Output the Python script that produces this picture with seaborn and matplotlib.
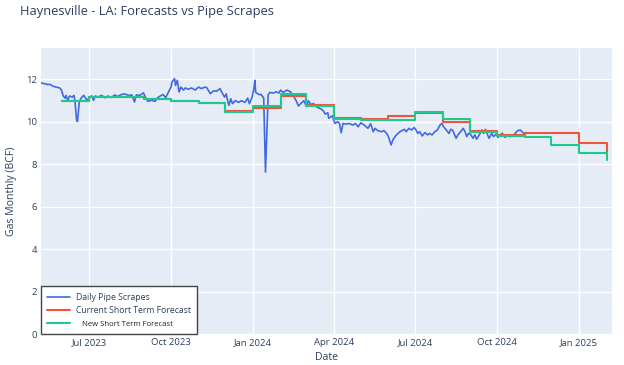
import matplotlib
matplotlib.use("Agg")
import matplotlib.pyplot as plt
import matplotlib.dates as mdates
import seaborn as sns
import pandas as pd

# ---------------- data ----------------
pipe_dates = [
    "2023-05-08", "2023-05-12", "2023-05-15", "2023-05-18", "2023-05-21", "2023-05-25", "2023-05-29", "2023-05-31",
    "2023-06-02", "2023-06-04", "2023-06-05", "2023-06-07", "2023-06-09", "2023-06-12", "2023-06-14", "2023-06-15",
    "2023-06-17", "2023-06-18", "2023-06-20", "2023-06-23", "2023-06-25", "2023-06-27", "2023-06-29", "2023-07-01",
    "2023-07-04", "2023-07-06", "2023-07-08", "2023-07-11", "2023-07-15", "2023-07-19", "2023-07-22", "2023-07-26",
    "2023-07-30", "2023-08-02", "2023-08-06", "2023-08-10", "2023-08-14", "2023-08-18", "2023-08-21", "2023-08-23",
    "2023-08-27", "2023-08-31", "2023-09-02", "2023-09-05", "2023-09-09", "2023-09-13", "2023-09-16", "2023-09-20",
    "2023-09-22", "2023-09-25", "2023-09-28", "2023-10-01", "2023-10-02", "2023-10-05", "2023-10-06", "2023-10-08",
    "2023-10-10", "2023-10-12", "2023-10-15", "2023-10-17", "2023-10-20", "2023-10-24", "2023-10-28", "2023-11-01",
    "2023-11-04", "2023-11-08", "2023-11-10", "2023-11-14", "2023-11-18", "2023-11-21", "2023-11-25", "2023-11-27",
    "2023-11-30", "2023-12-02", "2023-12-03", "2023-12-05", "2023-12-07", "2023-12-09", "2023-12-12", "2023-12-16",
    "2023-12-19", "2023-12-23", "2023-12-26", "2023-12-28", "2023-12-31", "2024-01-02", "2024-01-03", "2024-01-04",
    "2024-01-08", "2024-01-10", "2024-01-13", "2024-01-15", "2024-01-18", "2024-01-20", "2024-01-24", "2024-01-27",
    "2024-01-30", "2024-02-01", "2024-02-04", "2024-02-08", "2024-02-12", "2024-02-16", "2024-02-19", "2024-02-21",
    "2024-02-24", "2024-02-27", "2024-03-01", "2024-03-03", "2024-03-06", "2024-03-09", "2024-03-13", "2024-03-17",
    "2024-03-20", "2024-03-22", "2024-03-25", "2024-03-26", "2024-03-30", "2024-04-02", "2024-04-05", "2024-04-07",
    "2024-04-09", "2024-04-11", "2024-04-14", "2024-04-18", "2024-04-22", "2024-04-25", "2024-04-28", "2024-05-01",
    "2024-05-05", "2024-05-09", "2024-05-12", "2024-05-15", "2024-05-17", "2024-05-20", "2024-05-24", "2024-05-27",
    "2024-05-30", "2024-06-01", "2024-06-04", "2024-06-06", "2024-06-09", "2024-06-11", "2024-06-14", "2024-06-16",
    "2024-06-19", "2024-06-21", "2024-06-24", "2024-06-27", "2024-06-30", "2024-07-02", "2024-07-04", "2024-07-06",
    "2024-07-09", "2024-07-12", "2024-07-15", "2024-07-17", "2024-07-20", "2024-07-23", "2024-07-26", "2024-07-29",
    "2024-07-31", "2024-08-02", "2024-08-05", "2024-08-08", "2024-08-10", "2024-08-12", "2024-08-14", "2024-08-16",
    "2024-08-18", "2024-08-21", "2024-08-24", "2024-08-26", "2024-08-28", "2024-08-30", "2024-09-01", "2024-09-04",
    "2024-09-06", "2024-09-08", "2024-09-11", "2024-09-14", "2024-09-16", "2024-09-18", "2024-09-20", "2024-09-22",
    "2024-09-25", "2024-09-27", "2024-09-30", "2024-10-02", "2024-10-04", "2024-10-07", "2024-10-10", "2024-10-12",
    "2024-10-15", "2024-10-19", "2024-10-22", "2024-10-24", "2024-10-27", "2024-10-29", "2024-11-01", "2024-11-03",
]
pipe_values = [
    11.82, 11.78, 11.74, 11.75, 11.67, 11.62, 11.58, 11.48,
    11.20, 11.10, 11.23, 11.00, 11.20, 11.15, 11.23, 11.00,
    10.05, 10.00, 10.95, 11.15, 11.23, 11.10, 10.98, 11.15,
    11.20, 11.00, 11.20, 11.15, 11.23, 11.12, 11.20, 11.13,
    11.25, 11.17, 11.27, 11.30, 11.23, 11.25, 10.92, 11.25,
    11.23, 11.35, 11.15, 10.95, 11.00, 10.95, 11.12, 11.23,
    11.27, 11.12, 11.38, 11.62, 11.86, 12.02, 11.70, 11.94,
    11.39, 11.62, 11.48, 11.58, 11.52, 11.58, 11.48, 11.62,
    11.55, 11.62, 11.60, 11.31, 11.45, 11.42, 11.55, 11.37,
    11.15, 11.30, 11.07, 10.76, 11.07, 10.84, 10.98, 10.90,
    10.98, 10.90, 11.10, 10.84, 11.15, 11.55, 11.94, 11.37,
    11.26, 11.28, 11.10, 7.62, 11.26, 11.37, 11.34, 11.40,
    11.34, 11.48, 11.37, 11.48, 11.40, 11.17, 10.93, 10.73,
    10.86, 10.98, 10.70, 10.98, 10.80, 10.84, 10.67, 10.60,
    10.50, 10.35, 10.41, 10.15, 10.27, 9.91, 9.99, 9.91,
    9.47, 9.91, 9.88, 9.91, 9.83, 9.91, 9.75, 9.94,
    9.83, 9.68, 9.90, 9.52, 9.68, 9.57, 9.52, 9.57,
    9.44, 9.29, 8.90, 9.13, 9.32, 9.41, 9.52, 9.57,
    9.63, 9.52, 9.68, 9.60, 9.72, 9.60, 9.44, 9.52,
    9.32, 9.48, 9.37, 9.44, 9.37, 9.52, 9.60, 9.84,
    9.91, 9.75, 9.60, 9.44, 9.63, 9.60, 9.41, 9.21,
    9.37, 9.52, 9.68, 9.52, 9.29, 9.44, 9.41, 9.21,
    9.37, 9.17, 9.37, 9.60, 9.44, 9.63, 9.41, 9.21,
    9.44, 9.29, 9.41, 9.25, 9.37, 9.44, 9.25, 9.37,
    9.29, 9.33, 9.48, 9.57, 9.60, 9.52, 9.41, 9.48,
]

forecast_months = [
    "2023-06-01", "2023-07-01", "2023-08-01", "2023-09-01", "2023-10-01", "2023-11-01", "2023-12-01",
    "2024-01-01", "2024-02-01", "2024-03-01", "2024-04-01", "2024-05-01", "2024-06-01", "2024-07-01",
    "2024-08-01", "2024-09-01", "2024-10-01", "2024-11-01", "2024-12-01", "2025-01-01", "2025-02-01",
]
current_forecast = [
    10.98, 11.14, 11.14, 11.07, 10.98, 10.85, 10.49,
    10.65, 11.19, 10.80, 10.18, 10.14, 10.25, 10.40,
    9.99, 9.57, 9.35, 9.47, 9.44, 8.97, 8.58,
]
new_forecast = [
    10.98, 11.14, 11.14, 11.07, 10.98, 10.85, 10.46,
    10.71, 11.28, 10.72, 10.13, 10.07, 10.07, 10.43,
    10.11, 9.51, 9.31, 9.25, 8.91, 8.53, 8.19,
]

title = "Haynesville - LA: Forecasts vs Pipe Scrapes"
x_label = "Date"
y_label = "Gas Monthly (BCF)"
series_names = ["Daily Pipe Scrapes", "Current Short Term Forecast", "New Short Term Forecast"]

# ---------------- styling ----------------
sns.set_theme(style="darkgrid")
plt.rcParams["font.family"] = ["Open Sans", "DejaVu Sans"]
text_color = "#2a3f5f"

pipe_df = pd.DataFrame({"date": pd.to_datetime(pipe_dates), "value": pipe_values})
fc_df = pd.DataFrame({
    "date": pd.to_datetime(forecast_months),
    "current": current_forecast,
    "new": new_forecast,
})

fig = plt.figure(figsize=(6.24, 3.65), dpi=100)
ax = fig.add_axes([41 / 624, 1 - 334 / 365, (612 - 41) / 624, (334 - 48) / 365])
ax.set_facecolor("#E5ECF6")

sns.lineplot(data=pipe_df, x="date", y="value", ax=ax, color="#4169E1",
             linewidth=1.2, label=series_names[0])
sns.lineplot(data=fc_df, x="date", y="current", ax=ax, color="#EF553B",
             linewidth=1.5, drawstyle="steps-post", label=series_names[1])
sns.lineplot(data=fc_df, x="date", y="new", ax=ax, color="#1CC98E",
             linewidth=1.5, drawstyle="steps-post", label=series_names[2])

ax.set_xlim(pd.Timestamp("2023-05-08"), pd.Timestamp("2025-02-07"))
ax.set_ylim(0, 13.46)
ax.set_yticks([0, 2, 4, 6, 8, 10, 12])
ax.xaxis.set_major_locator(mdates.MonthLocator(bymonth=[1, 4, 7, 10]))
ax.xaxis.set_major_formatter(mdates.DateFormatter("%b %Y"))

ax.grid(True, color="white", linewidth=1)
for s in ax.spines.values():
    s.set_visible(False)
ax.tick_params(axis="both", length=0, labelsize=6.8, labelcolor=text_color)
ax.tick_params(axis="x", pad=3)
ax.tick_params(axis="y", pad=3)

ax.set_xlabel("")
ax.set_ylabel("")
fig.text(326 / 624, 1 - 357 / 365, x_label, fontsize=7.6, color=text_color,
         ha="center", va="center")
fig.text(12 / 624, 1 - 191 / 365, y_label, fontsize=7.6, color=text_color,
         ha="center", va="center", rotation=90)

fig.text(20 / 624, 1 - 12 / 365, title, fontsize=9.3, color=text_color,
         ha="left", va="center")

leg = ax.legend(loc="lower left", bbox_to_anchor=(0, 0), frameon=True, fontsize=6.2,
                handlelength=2.6, handletextpad=0.7, borderpad=0.75, labelspacing=0.5,
                fancybox=False, borderaxespad=0)
leg.get_frame().set_edgecolor("#444444")
leg.get_frame().set_linewidth(1.0)
leg.get_frame().set_facecolor("white")
leg.get_frame().set_alpha(1)
for t in leg.get_texts():
    t.set_color(text_color)
leg.get_texts()[2].set_fontsize(5.6)
leg.get_texts()[2].set_text("   " + series_names[2])
leg.get_texts()[2].set_color("#222222")

fig.savefig("out.png", dpi=100, facecolor="white")
